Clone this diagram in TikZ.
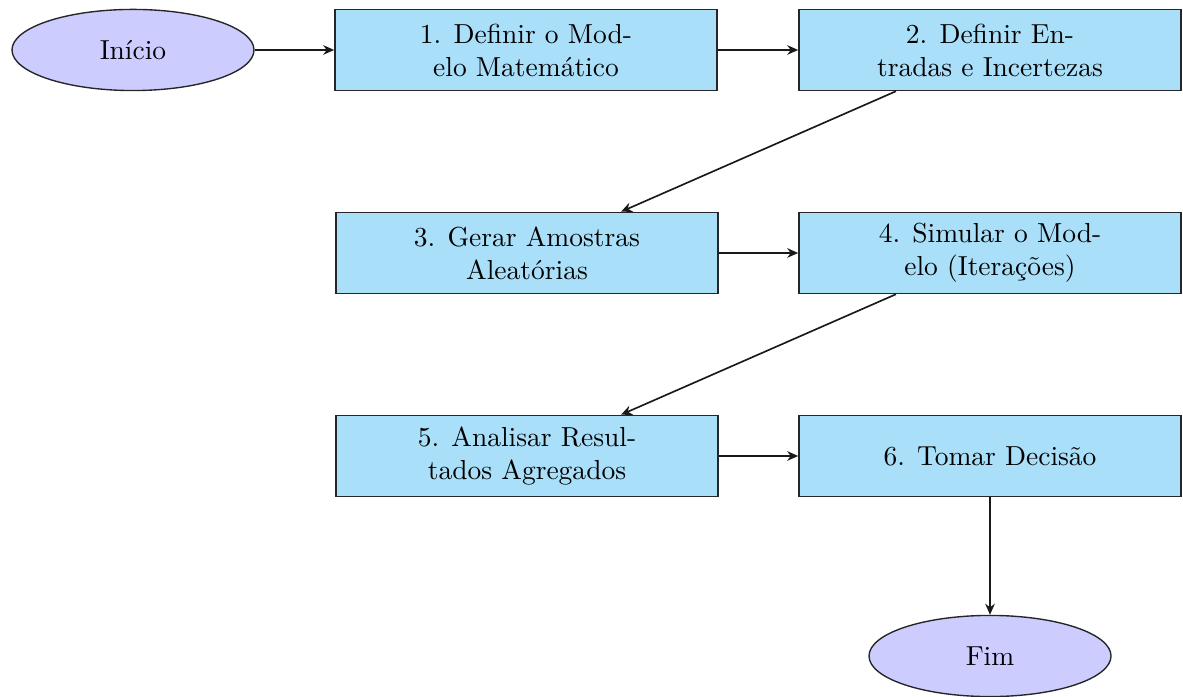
\documentclass[tikz,border=0pt]{standalone}
\usepackage{fontspec}
\usetikzlibrary{shapes.geometric,arrows.meta}
\definecolor{boxfill}{RGB}{170,223,249}
\definecolor{ovalfill}{RGB}{204,204,255}
\begin{document}
\begin{tikzpicture}[x=0.3636pt,y=-0.3636pt,
  stepbox/.style={rectangle,draw=black!85,fill=boxfill,line width=0.5pt,
    minimum width=139pt,minimum height=29.5pt,align=center,inner sep=2pt},
  oval/.style={ellipse,draw=black!85,fill=ovalfill,line width=0.5pt,
    minimum width=88pt,minimum height=29.5pt,inner sep=0pt},
  conn/.style={-{Stealth[length=4pt,width=3.5pt]},line width=0.6pt,black!90}]
\useasboundingbox (0,0) rectangle (1183,697);
\node[oval] (start) at (133,50) {Início};
\node[stepbox] (b1) at (526,50) {1. Definir o Mod-\\elo Matemático};
\node[stepbox] (b2) at (990,50) {2. Definir En-\\tradas e Incertezas};
\node[stepbox] (b3) at (527,253) {3. Gerar Amostras\\Aleatórias};
\node[stepbox] (b4) at (990,253) {4. Simular o Mod-\\elo (Iterações)};
\node[stepbox] (b5) at (527,456) {5. Analisar Resul-\\tados Agregados};
\node[stepbox] (b6) at (990,456) {6. Tomar Decisão};
\node[oval] (fim) at (990,656) {Fim};
\draw[conn] (start) -- (b1);
\draw[conn] (b1) -- (b2);
\draw[conn] (b2) -- (b3);
\draw[conn] (b3) -- (b4);
\draw[conn] (b4) -- (b5);
\draw[conn] (b5) -- (b6);
\draw[conn] (b6) -- (fim);
\end{tikzpicture}
\end{document}
